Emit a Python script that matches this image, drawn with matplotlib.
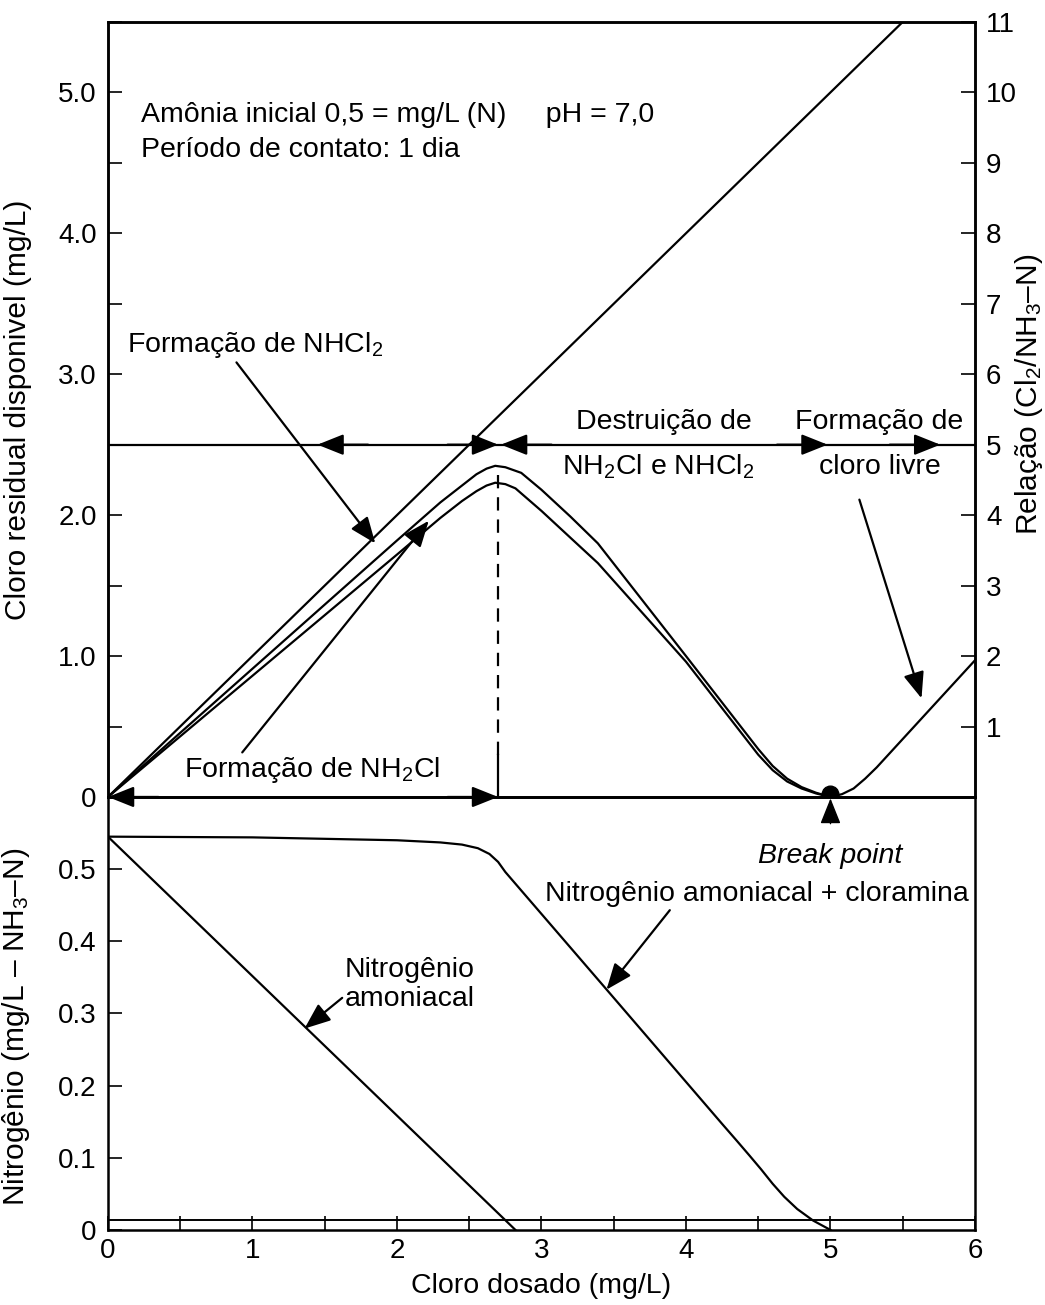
import matplotlib
matplotlib.use("Agg")
import matplotlib.pyplot as plt
from matplotlib.ticker import MultipleLocator

plt.rcParams['font.family'] = ['Liberation Sans', 'DejaVu Sans']
plt.rcParams['mathtext.fontset'] = 'custom'
plt.rcParams['mathtext.rm'] = 'Liberation Sans'
plt.rcParams['mathtext.it'] = 'Liberation Sans:italic'
plt.rcParams['mathtext.default'] = 'regular'

# ---- dados ----
# cloro residual (painel superior)
demanda_x = [0, 5.5]
demanda_y = [0, 5.5]

curva_sup_x = [0, 0.5, 1.0, 1.5, 2.0, 2.3, 2.45, 2.55, 2.62, 2.68, 2.75, 2.86, 3.0, 3.2, 3.39, 4.0, 4.5, 4.6, 4.7, 4.8, 4.9, 5.0]
curva_sup_y = [0, 0.455, 0.91, 1.365, 1.82, 2.09, 2.21, 2.29, 2.33, 2.35, 2.34, 2.30, 2.18, 1.99, 1.80, 1.00, 0.34, 0.22, 0.13, 0.07, 0.03, 0.0]

curva_inf_x = [0, 0.5, 1.0, 1.5, 2.0, 2.3, 2.45, 2.55, 2.62, 2.68, 2.75, 2.82, 3.0, 3.2, 3.39, 4.0, 4.5, 4.6, 4.7, 4.8, 4.9, 5.0]
curva_inf_y = [0, 0.43, 0.86, 1.29, 1.72, 1.98, 2.10, 2.17, 2.21, 2.23, 2.22, 2.19, 2.03, 1.84, 1.66, 0.96, 0.30, 0.19, 0.11, 0.06, 0.025, 0.0]

livre_x = [5.0, 5.08, 5.16, 5.24, 5.32, 6.0]
livre_y = [0.0, 0.02, 0.06, 0.13, 0.21, 0.97]

break_x = 5.0
break_y = 0.02
dose_pico = 2.7
relacao_linha = 5  # Cl2/NH3-N

# nitrogênio (painel inferior)
amon_x = [0, 2.82]
amon_y = [0.545, 0.0]

cloram_x = [0, 1.0, 2.0, 2.3, 2.45, 2.56, 2.64, 2.7, 2.75, 3.46, 4.25, 4.35, 4.44, 4.52, 4.6, 4.68, 4.77, 4.88, 5.0]
cloram_y = [0.545, 0.544, 0.540, 0.537, 0.534, 0.529, 0.521, 0.510, 0.496, 0.331, 0.147, 0.124, 0.103, 0.084, 0.064, 0.046, 0.029, 0.013, 0.0]

# pontas de seta sobre as linhas horizontais: (x da ponta, direção)
setas_relacao = [(1.45, -1), (2.7, 1), (2.72, -1), (4.98, 1), (5.76, 1)]
setas_zero = [(0.0, -1), (2.7, 1)]

fs = 20.5
fst = 20
fsl = 21.5
lw = 1.6
cabeca = '-|>,head_length=0.8,head_width=0.32'

fig = plt.figure(figsize=(10.45, 13.05), dpi=100)
ax = fig.add_axes([0.1033, 0.3893, 0.8297, 0.5939])
axb = fig.add_axes([0.1033, 0.0575, 0.8297, 0.3318], sharex=ax)
axb.set_facecolor('none')
ax2 = ax.twinx()

# ---- painel superior ----
ax.plot(demanda_x, demanda_y, color='k', lw=lw)
ax.plot(curva_sup_x, curva_sup_y, color='k', lw=lw)
ax.plot(curva_inf_x, curva_inf_y, color='k', lw=lw)
ax.plot(livre_x, livre_y, color='k', lw=lw)
ax.plot([break_x], [break_y], 'o', color='k', ms=12, zorder=5)

y_rel = relacao_linha / 2.0
ax.axhline(y_rel, color='k', lw=lw)
ax.plot([dose_pico, dose_pico], [0, 0.3], color='k', lw=lw)
ax.plot([dose_pico, dose_pico], [0.3, 2.35], color='k', lw=lw, ls=(0, (6, 4)))

for xt, d in setas_relacao:
    ax.annotate('', xy=(xt, y_rel), xytext=(xt - d * 0.35, y_rel),
                arrowprops=dict(arrowstyle=cabeca, color='k', lw=lw,
                                shrinkA=0, shrinkB=0, mutation_scale=20))
for xt, d in setas_zero:
    ax.annotate('', xy=(xt, 0), xytext=(xt - d * 0.35, 0),
                arrowprops=dict(arrowstyle=cabeca, color='k', lw=lw,
                                shrinkA=0, shrinkB=0, mutation_scale=20),
                annotation_clip=False, zorder=6)

ax.text(0.23, 4.84, 'Amônia inicial 0,5 = mg/L (N)     pH = 7,0', fontsize=fs, va='center')
ax.text(0.23, 4.59, 'Período de contato: 1 dia', fontsize=fs, va='center')

ax.annotate('Formação de NHCl$_2$', xy=(1.85, 1.80), xytext=(0.13, 3.21),
            fontsize=fs, va='center', ha='left',
            arrowprops=dict(arrowstyle=cabeca, color='k', lw=lw, shrinkA=0, shrinkB=0,
                            mutation_scale=20, relpos=(0.42, 0.0)))
ax.annotate('Formação de NH$_2$Cl', xy=(2.22, 1.96), xytext=(1.41, 0.19),
            fontsize=fs, va='center', ha='center',
            arrowprops=dict(arrowstyle=cabeca, color='k', lw=lw, shrinkA=0, shrinkB=0,
                            mutation_scale=20, relpos=(0.22, 1.0)))
ax.text(3.85, 2.66, 'Destruição de', fontsize=fs, ha='center', va='center')
ax.text(3.81, 2.34, 'NH$_2$Cl e NHCl$_2$', fontsize=fs, ha='center', va='center')
ax.text(5.34, 2.66, 'Formação de', fontsize=fs, ha='center', va='center')
ax.text(5.34, 2.34, 'cloro livre', fontsize=fs, ha='center', va='center')
ax.annotate('', xy=(5.63, 0.70), xytext=(5.2, 2.11),
            arrowprops=dict(arrowstyle=cabeca, color='k', lw=lw, shrinkA=0, shrinkB=0,
                            mutation_scale=20))

ax.set_xlim(0, 6)
ax.set_ylim(0, 5.5)
ax.yaxis.set_minor_locator(MultipleLocator(0.5))
ax.set_yticks([0, 1, 2, 3, 4, 5])
ax.set_yticklabels(['0', '1.0', '2.0', '3.0', '4.0', '5.0'])
ax.tick_params(axis='y', which='both', direction='in', length=10, width=1.2,
               labelsize=fst, pad=8)
ax.tick_params(axis='x', which='both', bottom=False, labelbottom=False)
ax.set_ylabel('Cloro residual disponivel (mg/L)', fontsize=fsl)
ax.yaxis.set_label_coords(-0.088, 0.5)

ax2.set_ylim(0, 11)
ax2.set_yticks(range(1, 12))
ax2.tick_params(axis='y', direction='in', length=10, width=1.2, labelsize=fst, pad=8)
ax2.set_ylabel('Relação (Cl$_2$/NH$_3$–N)', fontsize=fsl, rotation=90)
ax2.yaxis.set_label_coords(1.044, 0.52)

for a in (ax, ax2, axb):
    for s in a.spines.values():
        s.set_linewidth(1.8)

# ---- painel inferior ----
axb.plot(amon_x, amon_y, color='k', lw=lw)
axb.plot(cloram_x, cloram_y, color='k', lw=lw)
axb.axhline(0.014, color='k', lw=1.4)

axb.annotate('Break point', xy=(break_x, 0.598), xytext=(break_x, 0.518),
             fontsize=fs, style='italic', ha='center', va='center',
             arrowprops=dict(arrowstyle=cabeca, color='k', lw=1.0, shrinkA=12, shrinkB=0,
                             mutation_scale=20),
             annotation_clip=False)
axb.annotate('Nitrogênio amoniacal + cloramina', xy=(3.45, 0.333), xytext=(4.49, 0.465),
             fontsize=fs, ha='center', va='center',
             arrowprops=dict(arrowstyle=cabeca, color='k', lw=lw, shrinkA=0, shrinkB=0,
                             mutation_scale=20, relpos=(0.3, 0.0)))
axb.annotate('Nitrogênio\namoniacal', xy=(1.36, 0.279), xytext=(2.09, 0.34),
             fontsize=fs, ha='center', va='center', linespacing=1.15,
             arrowprops=dict(arrowstyle=cabeca, color='k', lw=lw, shrinkA=0, shrinkB=0,
                             mutation_scale=20, relpos=(0.0, 0.3)))

axb.set_ylim(0, 0.6)
axb.set_yticks([0, 0.1, 0.2, 0.3, 0.4, 0.5])
axb.set_yticklabels(['0', '0.1', '0.2', '0.3', '0.4', '0.5'])
axb.set_xticks(range(0, 7))
axb.xaxis.set_minor_locator(MultipleLocator(0.5))
axb.tick_params(axis='y', direction='in', length=10, width=1.2, labelsize=fst, pad=8)
axb.tick_params(axis='x', which='both', direction='in', length=10, width=1.2,
                labelsize=fst, pad=6, top=False)
axb.set_xlabel('Cloro dosado (mg/L)', fontsize=fs, labelpad=6)
axb.set_ylabel('Nitrogênio (mg/L – NH$_3$–N)', fontsize=fsl)
axb.yaxis.set_label_coords(-0.088, 0.47)

fig.savefig('out.png', dpi=100)
